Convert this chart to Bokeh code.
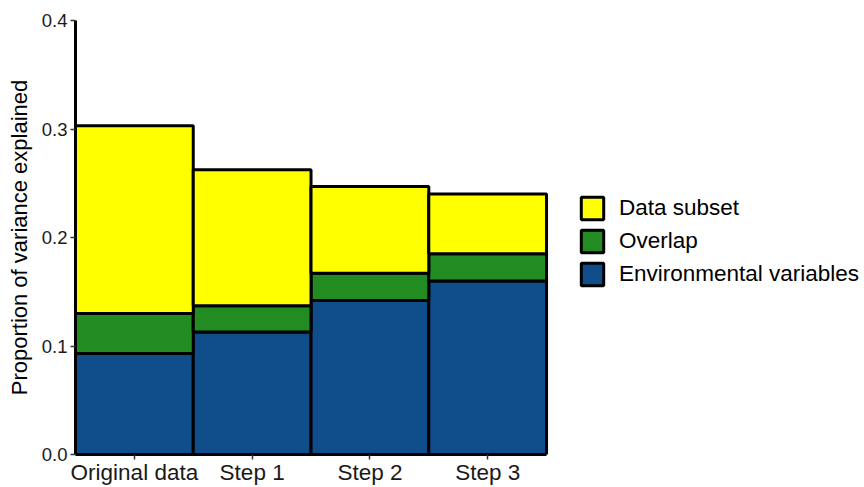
from bokeh.plotting import figure
from bokeh.models import Legend, LegendItem, FixedTicker, ColumnDataSource, CustomJSTickFormatter, Range1d
from bokeh.embed import file_html
from bokeh.resources import INLINE

categories = ["Original data", "Step 1", "Step 2", "Step 3"]
env_vars = [0.093, 0.113, 0.142, 0.160]
overlap = [0.037, 0.024, 0.025, 0.025]
data_subset = [0.173, 0.1255, 0.080, 0.055]

series_names = ["Environmental variables", "Overlap", "Data subset"]
series_keys = ["env", "overlap", "subset"]
colors = ["#104E8B", "#228B22", "#FFFF00"]
y_ticks = [0.0, 0.1, 0.2, 0.3, 0.4]

positions = list(range(1, len(categories) + 1))
source = ColumnDataSource(dict(x=positions, env=env_vars, overlap=overlap, subset=data_subset))

FONT = "Liberation Sans"

# frame spans from the y axis to the right edge; bars occupy the first 4 units
p = figure(x_range=Range1d(0.5, 7.2), y_range=Range1d(0, 0.4), width=864, height=487,
           output_backend="svg", toolbar_location=None,
           min_border_left=75, min_border_right=0, min_border_top=20, min_border_bottom=30)

renderers = p.vbar_stack(series_keys, x="x", width=1.0, source=source,
                         fill_color=colors, line_color="black", line_width=3)

p.outline_line_color = None
p.grid.grid_line_color = None
p.background_fill_color = "white"

p.yaxis.ticker = FixedTicker(ticks=y_ticks)
p.yaxis.formatter = CustomJSTickFormatter(code="return tick.toFixed(1);")
p.yaxis.axis_label = "Proportion of variance explained"
p.yaxis.axis_label_text_font = FONT
p.yaxis.axis_label_text_font_size = "22px"
p.yaxis.axis_label_text_font_style = "normal"
p.yaxis.axis_label_text_color = "black"
p.yaxis.axis_label_standoff = 7

p.xaxis.ticker = FixedTicker(ticks=positions)
p.xaxis.major_label_overrides = {pos: cat for pos, cat in zip(positions, categories)}
p.xaxis.bounds = (0.5, len(categories) + 0.5)

for ax in (p.xaxis, p.yaxis):
    ax.axis_line_color = "black"
    ax.axis_line_width = 3
    ax.major_tick_line_color = "#333333"
    ax.major_tick_line_width = 1.5
    ax.major_tick_out = 5
    ax.major_tick_in = 0
    ax.minor_tick_line_color = None
    ax.major_label_text_font = FONT
    ax.major_label_text_font_size = "18.5px"
    ax.major_label_text_color = "#1a1a1a"
    ax.major_label_standoff = 3

p.xaxis.major_label_text_font_size = "22.5px"
p.xaxis.major_label_standoff = 0

items = [LegendItem(label=series_names[i], renderers=[renderers[i]]) for i in [2, 1, 0]]
legend = Legend(items=items, location=(503, 166), orientation="vertical",
                glyph_width=28, glyph_height=28, spacing=5, padding=0, margin=0,
                label_text_font=FONT, label_text_font_size="22.5px", label_standoff=13,
                label_text_color="black",
                border_line_color=None, background_fill_alpha=0)
p.add_layout(legend, "center")

open("out.html", "w").write(file_html(p, INLINE))
